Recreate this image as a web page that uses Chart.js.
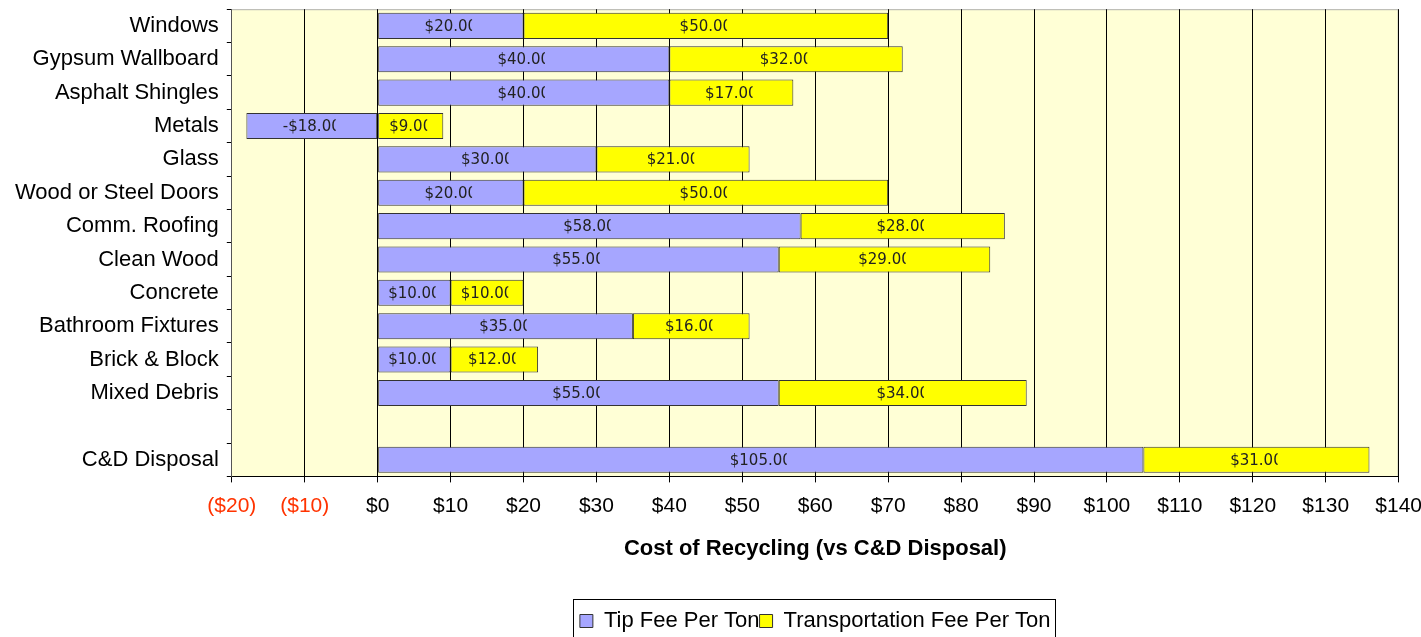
<!DOCTYPE html>
<html>
<head>
<meta charset="utf-8">
<script src="https://cdn.jsdelivr.net/npm/chart.js@4/dist/chart.umd.min.js"></script>
<style>
  html, body { margin: 0; padding: 0; background: #fff; overflow: hidden; width: 1421px; height: 637px; }
  #wrap { position: absolute; left: 0; top: -12px; width: 1433px; height: 654px; }
</style>
</head>
<body>
<div id="wrap"><canvas id="grafico"></canvas></div>
<script>
const CATEGORIAS = ['Windows', 'Gypsum Wallboard', 'Asphalt Shingles', 'Metals', 'Glass', 'Wood or Steel Doors',
    'Comm. Roofing', 'Clean Wood', 'Concrete', 'Bathroom Fixtures', 'Brick & Block', 'Mixed Debris', '', 'C&D Disposal'];
const TIP_FEE = [20, 40, 40, -18, 30, 20, 58, 55, 10, 35, 10, 55, null, 105];
const TRANSPORTE = [50, 32, 17, 9, 21, 50, 28, 29, 10, 16, 12, 34, null, 31];
const X_MIN = -20;
const X_MAX = 140;
const X_PASSO = 10;

const FONTE = "'Liberation Sans', Arial, sans-serif";

// fundo amarelo claro da area do grafico
const fundoPlot = {
    id: 'fundoPlot',
    beforeDraw(chart) {
        const a = chart.chartArea, ctx = chart.ctx;
        ctx.save();
        ctx.fillStyle = '#FFFFD6';
        ctx.fillRect(a.left, a.top, a.right - a.left, a.bottom - a.top);
        ctx.strokeStyle = '#B0B0B0';
        ctx.lineWidth = 1;
        ctx.beginPath();
        ctx.moveTo(a.left, a.top + 0.5);
        ctx.lineTo(a.right - 0.5, a.top + 0.5);
        ctx.lineTo(a.right - 0.5, a.bottom);
        ctx.stroke();
        ctx.restore();
    }
};

// rotulos dentro das barras (cortados no fim, como no original)
const rotulos = {
    id: 'rotulos',
    afterDatasetsDraw(chart) {
        const ctx = chart.ctx;
        ctx.save();
        ctx.font = "15px 'DejaVu Sans', Verdana, sans-serif";
        ctx.fillStyle = '#222';
        ctx.textAlign = 'center';
        ctx.textBaseline = 'middle';
        chart.data.datasets.forEach((ds, i) => {
            chart.getDatasetMeta(i).data.forEach((bar, j) => {
                const v = ds.data[j];
                if (v === null || v === undefined) return;
                const txt = (v < 0 ? '-$' : '$') + Math.abs(v).toFixed(2);
                const cx = (bar.x + bar.base) / 2;
                const w = ctx.measureText(txt).width;
                ctx.save();
                ctx.beginPath();
                ctx.rect(cx - w / 2 - 2, bar.y - 15, w - 3, 30);
                ctx.clip();
                ctx.fillText(txt, cx, bar.y + 1);
                ctx.restore();
            });
        });
        ctx.restore();
    }
};

// moldura da legenda
const molduraLegenda = {
    id: 'molduraLegenda',
    afterDraw(chart) {
        const lg = chart.legend;
        if (!lg || !lg.legendHitBoxes.length) return;
        const hb = lg.legendHitBoxes;
        const x0 = hb[0].left - 7;
        const x1 = hb[hb.length - 1].left + hb[hb.length - 1].width + 4;
        const cy = hb[0].top + hb[0].height / 2;
        const ctx = chart.ctx;
        ctx.save();
        ctx.strokeStyle = '#000';
        ctx.lineWidth = 1;
        ctx.strokeRect(Math.round(x0) + 0.5, Math.round(cy - 22) + 0.5, Math.round(x1 - x0), 60);
        ctx.restore();
    }
};

new Chart(document.getElementById('grafico').getContext('2d'), {
    type: 'bar',
    data: {
        labels: CATEGORIAS,
        datasets: [
            {
                label: 'Tip Fee Per Ton',
                data: TIP_FEE,
                backgroundColor: '#A6A6FF',
                borderColor: '#333333',
                borderWidth: 1,
                borderSkipped: false,
                barPercentage: 0.78,
                categoryPercentage: 1
            },
            {
                label: 'Transportation Fee Per Ton',
                data: TRANSPORTE,
                backgroundColor: '#FFFF00',
                borderColor: '#333333',
                borderWidth: 1,
                borderSkipped: false,
                barPercentage: 0.78,
                categoryPercentage: 1
            }
        ]
    },
    options: {
        indexAxis: 'y',
        responsive: true,
        maintainAspectRatio: false,
        animation: false,
        layout: { padding: { top: 0, right: 0, left: 7, bottom: 0 } },
        scales: {
            x: {
                stacked: true,
                min: X_MIN,
                max: X_MAX,
                ticks: {
                    stepSize: X_PASSO,
                    padding: 11,
                    font: { family: FONTE, size: 21 },
                    color: (c) => c.tick && c.tick.value < 0 ? '#FF3300' : '#000',
                    callback: (v) => v < 0 ? '($' + (-v) + ')' : '$' + v
                },
                grid: { color: '#000', lineWidth: 1, tickLength: 6 },
                border: { color: '#000' },
                title: {
                    display: true,
                    text: 'Cost of Recycling (vs C&D Disposal)',
                    font: { family: FONTE, size: 22, weight: 'bold' },
                    color: '#000',
                    padding: { top: 6, bottom: 48 }
                }
            },
            y: {
                stacked: true,
                ticks: {
                    padding: 8,
                    autoSkip: false,
                    font: { family: FONTE, size: 22 },
                    color: '#000'
                },
                grid: { offset: true, drawOnChartArea: false, color: '#000', tickLength: 5 },
                border: { color: '#555' }
            }
        },
        plugins: {
            legend: {
                position: 'bottom',
                fullSize: false,
                labels: {
                    font: { family: FONTE, size: 22 },
                    color: '#000',
                    boxWidth: 13,
                    boxHeight: 13,
                    padding: 0
                }
            },
            tooltip: { enabled: false }
        }
    },
    plugins: [fundoPlot, rotulos, molduraLegenda]
});
</script>
</body>
</html>
